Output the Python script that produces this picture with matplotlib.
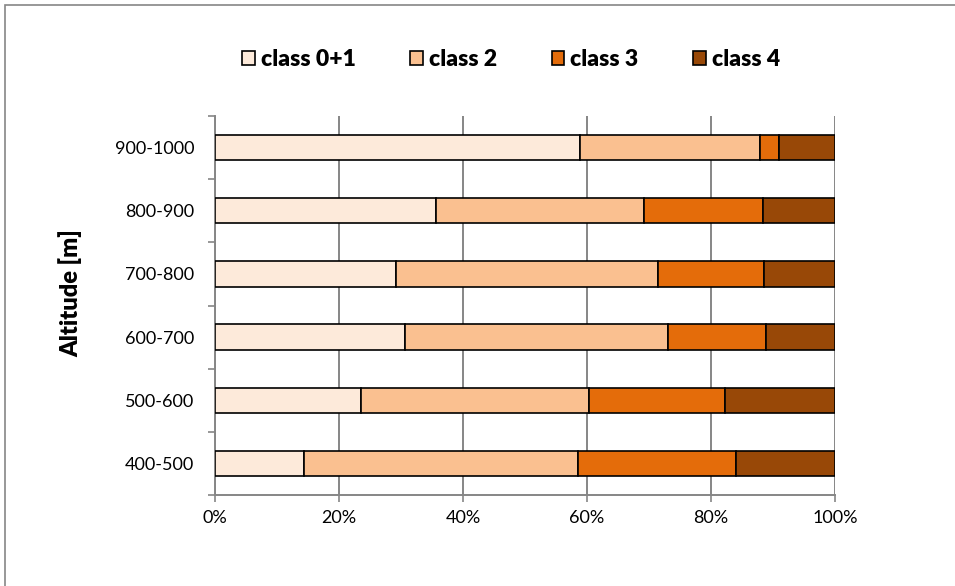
import matplotlib
matplotlib.use('Agg')
import matplotlib.pyplot as plt
import numpy as np
from matplotlib.patches import Rectangle
from matplotlib.ticker import FixedLocator, FuncFormatter

plt.rcParams['font.family'] = ['Lato', 'DejaVu Sans']

altitudes = ['400-500', '500-600', '600-700', '700-800', '800-900', '900-1000']
classes = ['class 0+1', 'class 2', 'class 3', 'class 4']
colors = ['#FDEADA', '#FAC090', '#E46C0A', '#984807']

# share of each class per altitude band (%)
class01 = [14.3, 23.5, 30.7, 29.2, 35.7, 58.8]
class2 = [44.3, 36.9, 42.4, 42.2, 33.5, 29.1]
class3 = [25.5, 21.8, 15.7, 17.2, 19.2, 3.0]
class4 = [15.9, 17.8, 11.2, 11.4, 11.6, 9.1]

grey = '#868686'

fig = plt.figure(figsize=(9.55, 5.86), dpi=100)
# outer chart frame
fig.patches.append(Rectangle((5 / 955, -0.05), 1.1, 1 - 5 / 586 + 0.05,
                             transform=fig.transFigure, fill=False,
                             edgecolor=grey, linewidth=1.2))

ax = fig.add_axes([215 / 955, 1 - 495 / 586, 620 / 955, 379 / 586])

y = np.arange(len(altitudes))
left = np.zeros(len(altitudes))
for name, vals, c in zip(classes, [class01, class2, class3, class4], colors):
    vals = np.array(vals)
    ax.barh(y, vals, left=left, height=0.4, color=c, edgecolor='black',
            linewidth=1.2, label=name, zorder=3)
    left += vals

ax.set_xlim(0, 100)
ax.set_ylim(-0.5, len(altitudes) - 0.5)
ax.set_xticks(np.arange(0, 101, 20))
ax.xaxis.set_major_formatter(FuncFormatter(lambda v, p: '%d%%' % v))
ax.set_yticks(y)
ax.set_yticklabels(altitudes)
ax.yaxis.set_minor_locator(FixedLocator(np.arange(-0.5, len(altitudes), 1)))

ax.tick_params(axis='x', length=5, width=1.2, color=grey, pad=6,
               labelsize=13)
ax.tick_params(axis='y', which='major', length=0, pad=15, labelsize=13)
ax.tick_params(axis='y', which='minor', length=5, width=1.2, color=grey)

ax.grid(axis='x', color=grey, linewidth=1.4, zorder=0)
ax.set_axisbelow(True)
for s in ['top', 'right']:
    ax.spines[s].set_visible(False)
for s in ['left', 'bottom']:
    ax.spines[s].set_color(grey)
    ax.spines[s].set_linewidth(1.4)

fig.text(70 / 955, 1 - 293 / 586, 'Altitude [m]', rotation=90, ha='center',
         va='center', fontsize=17, fontweight='heavy')

leg = fig.legend(loc='center', bbox_to_anchor=(511 / 955, 1 - 60 / 586),
                 ncol=4, frameon=False, handlelength=0.55, handleheight=0.55,
                 handletextpad=0.25, columnspacing=2.4,
                 prop={'size': 16.5, 'weight': 'heavy'})

fig.savefig('out.png', dpi=100)
